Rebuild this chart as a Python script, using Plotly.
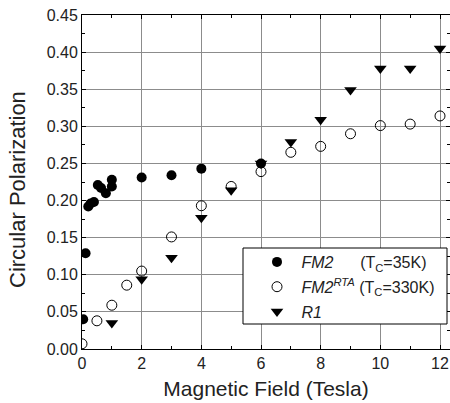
import plotly.graph_objects as go

fm2_x = [0.04, 0.12, 0.21, 0.29, 0.4, 0.53, 0.64, 0.8, 1.0, 1.0, 2.0, 3.0, 4.0, 6.0]
fm2_y = [0.040, 0.129, 0.192, 0.196, 0.198, 0.221, 0.217, 0.210, 0.228, 0.219, 0.231, 0.234, 0.243, 0.250]

rta_x = [0.0, 0.5, 1.0, 1.5, 2.0, 3.0, 4.0, 5.0, 6.0, 7.0, 8.0, 9.0, 10.0, 11.0, 12.0]
rta_y = [0.007, 0.038, 0.059, 0.086, 0.105, 0.151, 0.193, 0.219, 0.239, 0.265, 0.273, 0.290, 0.301, 0.303, 0.314]

r1_x = [1.0, 2.0, 3.0, 4.0, 5.0, 6.0, 7.0, 8.0, 9.0, 10.0, 11.0, 12.0]
r1_y = [0.035, 0.094, 0.123, 0.177, 0.214, 0.250, 0.279, 0.309, 0.349, 0.378, 0.378, 0.405]

x_ticks = [0, 2, 4, 6, 8, 10, 12]
y_ticks = [0.00, 0.05, 0.10, 0.15, 0.20, 0.25, 0.30, 0.35, 0.40, 0.45]

FONT = "Liberation Sans, Arial, sans-serif"
GRID = "#8c8c8c"

# plot area in pixels: left 82, right 450, top 15, bottom 349
def px_x(p):
    return (p - 82) / 368.0

def px_y(p):
    return (349 - p) / 334.0

fig = go.Figure()
fig.add_trace(go.Scatter(
    x=fm2_x, y=fm2_y, mode="markers", legendgroup="a",
    name="&nbsp;<i>FM2</i>&nbsp;&nbsp;&nbsp;&nbsp;&nbsp;&nbsp;(T<sub>C</sub>=35K)",
    marker=dict(symbol="circle", size=10, color="black"),
))
fig.add_trace(go.Scatter(
    x=rta_x, y=rta_y, mode="markers", legendgroup="b",
    name="&nbsp;<i>FM2</i><sup><i>RTA</i></sup> (T<sub>C</sub>=330K)",
    marker=dict(symbol="circle-open", size=10, color="black", line=dict(width=1)),
))
fig.add_trace(go.Scatter(
    x=r1_x, y=r1_y, mode="markers", legendgroup="c",
    name="&nbsp;<i>R1</i>",
    marker=dict(symbol="triangle-down", size=11, color="black"),
))

# legend frame
fig.add_shape(type="rect", xref="paper", yref="paper",
              x0=px_x(243), x1=px_x(447), y0=px_y(324), y1=px_y(248),
              line=dict(color="black", width=1), fillcolor="white", layer="above")

# y-axis title
fig.add_annotation(text="Circular Polarization", xref="paper", yref="paper",
                   x=px_x(17), y=px_y(190), textangle=-90, showarrow=False,
                   xanchor="center", yanchor="middle",
                   font=dict(size=22, family=FONT, color="#222"))

fig.update_layout(
    width=450, height=403,
    margin=dict(l=82, r=0, t=15, b=54),
    paper_bgcolor="white", plot_bgcolor="white",
    font=dict(family=FONT, color="#222", size=16),
    showlegend=True,
    legend=dict(
        x=px_x(257), y=px_y(245), xanchor="left", yanchor="top",
        bgcolor="rgba(0,0,0,0)", borderwidth=0,
        font=dict(family=FONT, size=16, color="#222"),
        tracegroupgap=1, traceorder="grouped",
    ),
    xaxis=dict(
        range=[0, 12.335], tickvals=x_ticks, ticktext=[str(v) for v in x_ticks],
        showgrid=True, gridcolor=GRID, gridwidth=1,
        showline=True, linecolor="black", linewidth=1, mirror="ticks",
        ticks="inside", ticklen=4, tickcolor="black",
        minor=dict(dtick=1, tick0=0, ticks="inside", ticklen=3, tickcolor="black", showgrid=False),
        zeroline=False,
        title=dict(text="Magnetic Field (Tesla)", font=dict(size=21, family=FONT), standoff=10),
        tickfont=dict(size=16),
    ),
    yaxis=dict(
        range=[0, 0.45], tickvals=y_ticks, ticktext=[f"{v:.2f}" for v in y_ticks],
        showgrid=True, gridcolor=GRID, gridwidth=1,
        showline=True, linecolor="black", linewidth=1, mirror="ticks",
        ticks="inside", ticklen=4, tickcolor="black",
        minor=dict(dtick=0.025, tick0=0, ticks="inside", ticklen=3, tickcolor="black", showgrid=False),
        zeroline=False,
        tickfont=dict(size=16),
    ),
)

fig.write_html("out.html")
